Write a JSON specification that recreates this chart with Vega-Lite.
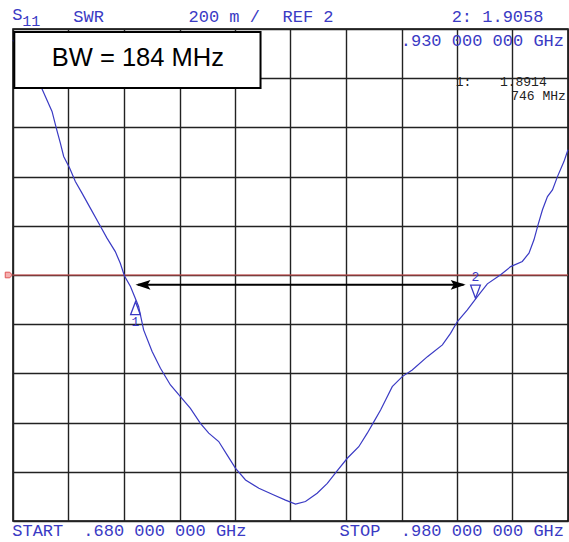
{
  "$schema": "https://vega.github.io/schema/vega-lite/v6.json",
  "width": 555,
  "height": 492,
  "autosize": "none",
  "padding": {"left": 13, "top": 29, "right": 1, "bottom": 21},
  "background": "white",
  "config": {
    "view": {"stroke": "black", "strokeWidth": 1.5},
    "axis": {"grid": true, "gridColor": "#222222", "gridWidth": 1.4, "gridOpacity": 1, "labels": false, "ticks": false, "domain": false, "title": null}
  },
  "datasets": {
    "curve": [
      {"f": 0.6800, "s": 2.956}, {"f": 0.6957, "s": 2.756}, {"f": 0.7011, "s": 2.665}, {"f": 0.7034, "s": 2.597},
      {"f": 0.7056, "s": 2.536}, {"f": 0.7074, "s": 2.482}, {"f": 0.7106, "s": 2.435}, {"f": 0.7137, "s": 2.380},
      {"f": 0.7173, "s": 2.333}, {"f": 0.7218, "s": 2.272}, {"f": 0.7268, "s": 2.204}, {"f": 0.7308, "s": 2.150},
      {"f": 0.7353, "s": 2.095}, {"f": 0.7380, "s": 2.048}, {"f": 0.7402, "s": 1.997}, {"f": 0.7435, "s": 1.953},
      {"f": 0.7479, "s": 1.872}, {"f": 0.7506, "s": 1.777}, {"f": 0.7552, "s": 1.689}, {"f": 0.7597, "s": 1.621},
      {"f": 0.7651, "s": 1.553}, {"f": 0.7705, "s": 1.506}, {"f": 0.7759, "s": 1.458}, {"f": 0.7813, "s": 1.397},
      {"f": 0.7858, "s": 1.357}, {"f": 0.7912, "s": 1.323}, {"f": 0.7958, "s": 1.268}, {"f": 0.8003, "s": 1.214},
      {"f": 0.8057, "s": 1.167}, {"f": 0.8129, "s": 1.133}, {"f": 0.8210, "s": 1.106}, {"f": 0.8273, "s": 1.085},
      {"f": 0.8327, "s": 1.069}, {"f": 0.8381, "s": 1.079}, {"f": 0.8444, "s": 1.113}, {"f": 0.8499, "s": 1.153},
      {"f": 0.8553, "s": 1.205}, {"f": 0.8607, "s": 1.255}, {"f": 0.8669, "s": 1.302}, {"f": 0.8715, "s": 1.357},
      {"f": 0.8751, "s": 1.404}, {"f": 0.8787, "s": 1.451}, {"f": 0.8814, "s": 1.492}, {"f": 0.8850, "s": 1.546},
      {"f": 0.8904, "s": 1.587}, {"f": 0.8958, "s": 1.614}, {"f": 0.9040, "s": 1.668}, {"f": 0.9121, "s": 1.716},
      {"f": 0.9165, "s": 1.763}, {"f": 0.9202, "s": 1.811}, {"f": 0.9256, "s": 1.858}, {"f": 0.9310, "s": 1.912},
      {"f": 0.9364, "s": 1.964}, {"f": 0.9436, "s": 2.001}, {"f": 0.9490, "s": 2.034}, {"f": 0.9553, "s": 2.055},
      {"f": 0.9589, "s": 2.089}, {"f": 0.9616, "s": 2.143}, {"f": 0.9638, "s": 2.204}, {"f": 0.9662, "s": 2.265},
      {"f": 0.9689, "s": 2.319}, {"f": 0.9716, "s": 2.346}, {"f": 0.9743, "s": 2.400}, {"f": 0.9778, "s": 2.461},
      {"f": 0.9800, "s": 2.509}
    ],
    "header": [
      {"t": "S", "f": 0.6796, "s": 3.036},
      {"t": "SWR", "f": 0.7126, "s": 3.030},
      {"t": "200 m /", "f": 0.7749, "s": 3.030},
      {"t": "REF 2", "f": 0.8257, "s": 3.030},
      {"t": "2: 1.9058", "f": 0.9171, "s": 3.030},
      {"t": ".930 000 000 GHz", "f": 0.8896, "s": 2.929},
      {"t": "START", "f": 0.6796, "s": 0.937},
      {"t": ".680 000 000 GHz", "f": 0.7180, "s": 0.937},
      {"t": "STOP", "f": 0.8565, "s": 0.937},
      {"t": ".980 000 000 GHz", "f": 0.8896, "s": 0.937}
    ],
    "readoutLeft": [
      {"t": "1:", "f": 0.9193, "s": 2.7695}
    ],
    "readoutRight": [
      {"t": "1.8914", "f": 0.9685, "s": 2.7695},
      {"t": "746 MHz", "f": 0.9788, "s": 2.7124}
    ],
    "small": [
      {"t": "11", "f": 0.6850, "s": 3.013}
    ]
  },
  "encoding": {
    "x": {"type": "quantitative", "scale": {"domain": [0.68, 0.98], "nice": false, "zero": false}},
    "y": {"type": "quantitative", "scale": {"domain": [1, 3], "nice": false, "zero": false}}
  },
  "layer": [
    {
      "data": {"values": [{"f1": 0.68, "f2": 0.98, "s": 2}]},
      "mark": {"type": "rule", "color": "#e05555", "strokeWidth": 1.2},
      "encoding": {
        "x": {"field": "f1", "type": "quantitative", "axis": {"values": [0.68, 0.71, 0.74, 0.77, 0.8, 0.83, 0.86, 0.89, 0.92, 0.95, 0.98]}},
        "x2": {"field": "f2"},
        "y": {"field": "s", "type": "quantitative", "axis": {"values": [1, 1.2, 1.4, 1.6, 1.8, 2, 2.2, 2.4, 2.6, 2.8, 3]}}
      }
    },
    {
      "data": {"values": [{"f": 0.6777, "s": 2}]},
      "mark": {"type": "point", "shape": "M-1,-0.8 L0.3,-0.8 L1,0 L0.3,0.8 L-1,0.8 Z", "size": 49, "filled": true, "fill": "#f4b0b0", "stroke": "#e05555", "strokeWidth": 1, "opacity": 1},
      "encoding": {"x": {"field": "f", "type": "quantitative"}, "y": {"field": "s", "type": "quantitative"}}
    },
    {
      "data": {"name": "curve"},
      "mark": {"type": "line", "color": "#3a3ac4", "strokeWidth": 1.2},
      "encoding": {"x": {"field": "f", "type": "quantitative"}, "y": {"field": "s", "type": "quantitative"}}
    },
    {
      "data": {"values": [{"f1": 0.7475, "f2": 0.9235, "s": 1.960}]},
      "mark": {"type": "rule", "color": "black", "strokeWidth": 2},
      "encoding": {"x": {"field": "f1", "type": "quantitative"}, "x2": {"field": "f2"}, "y": {"field": "s", "type": "quantitative"}}
    },
    {
      "data": {"values": [{"f": 0.7462, "s": 1.960}]},
      "mark": {"type": "point", "shape": "M0,0 L2,-0.65 L1.6,0 L2,0.65 Z", "size": 225, "filled": true, "color": "black", "opacity": 1},
      "encoding": {"x": {"field": "f", "type": "quantitative"}, "y": {"field": "s", "type": "quantitative"}}
    },
    {
      "data": {"values": [{"f": 0.9247, "s": 1.960}]},
      "mark": {"type": "point", "shape": "M0,0 L-2,-0.65 L-1.6,0 L-2,0.65 Z", "size": 225, "filled": true, "color": "black", "opacity": 1},
      "encoding": {"x": {"field": "f", "type": "quantitative"}, "y": {"field": "s", "type": "quantitative"}}
    },
    {
      "data": {"values": [{"f": 0.7462, "s": 1.8914}]},
      "mark": {"type": "point", "shape": "M0,0 L-0.75,2 L0.75,2 Z", "size": 169, "filled": false, "stroke": "#3a3ac4", "strokeWidth": 1.3, "opacity": 1},
      "encoding": {"x": {"field": "f", "type": "quantitative"}, "y": {"field": "s", "type": "quantitative"}}
    },
    {
      "data": {"values": [{"f": 0.9300, "s": 1.9058}]},
      "mark": {"type": "point", "shape": "M0,0 L-0.75,-2 L0.75,-2 Z", "size": 169, "filled": false, "stroke": "#3a3ac4", "strokeWidth": 1.3, "opacity": 1},
      "encoding": {"x": {"field": "f", "type": "quantitative"}, "y": {"field": "s", "type": "quantitative"}}
    },
    {
      "data": {"values": [{"t": "1", "f": 0.7462, "s": 1.8914}]},
      "mark": {"type": "text", "font": "Liberation Mono", "fontSize": 13, "color": "#3a3ac4", "align": "center", "baseline": "top", "dy": 14},
      "encoding": {"x": {"field": "f", "type": "quantitative"}, "y": {"field": "s", "type": "quantitative"}, "text": {"field": "t"}}
    },
    {
      "data": {"values": [{"t": "2", "f": 0.9300, "s": 1.9058}]},
      "mark": {"type": "text", "font": "Liberation Mono", "fontSize": 13, "color": "#3a3ac4", "align": "center", "baseline": "alphabetic", "dy": -17},
      "encoding": {"x": {"field": "f", "type": "quantitative"}, "y": {"field": "s", "type": "quantitative"}, "text": {"field": "t"}}
    },
    {
      "data": {"values": [{"f1": 0.6807, "f2": 0.8138, "s1": 2.760, "s2": 2.988}]},
      "mark": {"type": "rect", "fill": "white", "stroke": "black", "strokeWidth": 2},
      "encoding": {"x": {"field": "f1", "type": "quantitative"}, "x2": {"field": "f2"}, "y": {"field": "s1", "type": "quantitative"}, "y2": {"field": "s2"}}
    },
    {
      "data": {"values": [{"t": "BW = 184 MHz", "f": 0.7475, "s": 2.848}]},
      "mark": {"type": "text", "font": "Liberation Sans", "fontSize": 25.5, "color": "black", "align": "center", "baseline": "alphabetic"},
      "encoding": {"x": {"field": "f", "type": "quantitative"}, "y": {"field": "s", "type": "quantitative"}, "text": {"field": "t"}}
    },
    {
      "data": {"name": "header"},
      "mark": {"type": "text", "font": "Liberation Mono", "fontSize": 17, "color": "#3a3ac4", "align": "left", "baseline": "alphabetic"},
      "encoding": {"x": {"field": "f", "type": "quantitative"}, "y": {"field": "s", "type": "quantitative"}, "text": {"field": "t"}}
    },
    {
      "data": {"name": "small"},
      "mark": {"type": "text", "font": "Liberation Mono", "fontSize": 15, "color": "#3a3ac4", "align": "left", "baseline": "alphabetic"},
      "encoding": {"x": {"field": "f", "type": "quantitative"}, "y": {"field": "s", "type": "quantitative"}, "text": {"field": "t"}}
    },
    {
      "data": {"name": "readoutLeft"},
      "mark": {"type": "text", "font": "Liberation Mono", "fontSize": 13, "color": "#222222", "align": "left", "baseline": "alphabetic"},
      "encoding": {"x": {"field": "f", "type": "quantitative"}, "y": {"field": "s", "type": "quantitative"}, "text": {"field": "t"}}
    },
    {
      "data": {"name": "readoutRight"},
      "mark": {"type": "text", "font": "Liberation Mono", "fontSize": 13, "color": "#222222", "align": "right", "baseline": "alphabetic"},
      "encoding": {"x": {"field": "f", "type": "quantitative"}, "y": {"field": "s", "type": "quantitative"}, "text": {"field": "t"}}
    }
  ]
}
